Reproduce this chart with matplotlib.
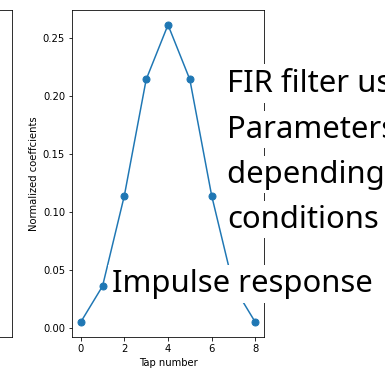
import matplotlib
matplotlib.use("Agg")
import matplotlib.pyplot as plt

taps = [0, 1, 2, 3, 4, 5, 6, 7, 8]
coefficients = [0.005, 0.036, 0.114, 0.214, 0.261, 0.214, 0.114, 0.036, 0.005]
x_label = "Tap number"
y_label = "Normalized coeffcients"
overlay_lines = ["FIR filter using", "Parameters", "depending on", "conditions"]
caption = "Impulse response"

W, H = 385, 371
fig = plt.figure(figsize=(W / 72, H / 72), dpi=72)

# partial neighbouring axes on the left (cropped)
axl = fig.add_axes([-0.5, 34 / H, 0.5 + 12 / W, (337 - 10) / H])
axl.set_xticks([])
axl.set_yticks([])

ax = fig.add_axes([72 / W, 34 / H, (264 - 72) / W, (337 - 10) / H])
ax.plot(taps, coefficients, "-o", color="#1f77b4", lw=1.5, ms=7)
ax.set_xlabel(x_label)
ax.set_ylabel(y_label)
ax.set_xticks([0, 2, 4, 6, 8])

box = dict(facecolor="white", edgecolor="none", boxstyle="square,pad=0.12")
baselines = [92, 137.5, 182.5, 227.5]
for line, yb in zip(overlay_lines, baselines):
    fig.text(227 / W, 1 - yb / H, line, fontsize=31, family="Noto Sans",
             va="baseline", ha="left", bbox=box)
fig.text(112 / W, 1 - 292 / H, caption, fontsize=31, family="Noto Sans",
         va="baseline", ha="left", bbox=box)

fig.savefig("out.png", dpi=72)
